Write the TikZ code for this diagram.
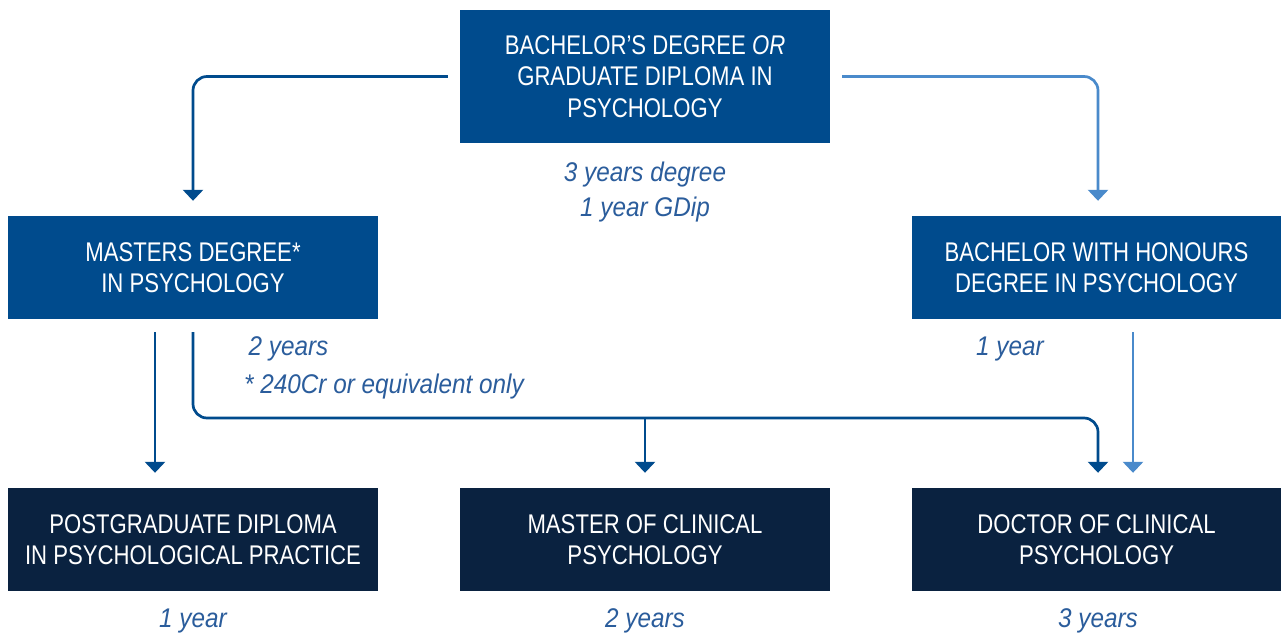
\documentclass[tikz,border=0pt]{standalone}
\usepackage{fontspec}
\setmainfont[FakeStretch=0.82]{Liberation Sans}
\newfontfamily\capsfont[FakeStretch=0.82]{Liberation Sans}
\newfontfamily\notefont[FakeStretch=0.9]{Liberation Sans}
\usetikzlibrary{arrows.meta,calc}
\definecolor{midblue}{HTML}{004B8D}
\definecolor{lightblue}{HTML}{4A8ACB}
\definecolor{navy}{HTML}{0A2240}
\definecolor{noteblue}{HTML}{2B5D9C}
\tikzset{
  boxbase/.style={rectangle, inner sep=0pt, text=white, align=center,
    font=\capsfont\fontsize{27}{31.5}\selectfont},
  upbox/.style={boxbase, fill=midblue, minimum width=370pt, minimum height=103pt},
  lowbox/.style={boxbase, fill=navy, minimum width=370pt, minimum height=103pt},
  note/.style={text=noteblue, inner sep=0pt, font=\notefont\itshape\fontsize{27}{35}\selectfont},
  darr/.style={draw=midblue, line width=2.7pt, rounded corners=14pt,
    -{Triangle[width=20pt,length=11pt]}, shorten >=15pt},
  larr/.style={draw=lightblue, line width=2.7pt, rounded corners=14pt,
    -{Triangle[width=20pt,length=11pt]}, shorten >=15pt},
}
\begin{document}
\begin{tikzpicture}[x=1pt,y=-1pt]
\useasboundingbox (0,0) rectangle (1281,634);
\fill[white] (0,0) rectangle (1281,634);

\node[upbox, minimum height=133pt] (top) at (645,76.5)
  {BACHELOR’S DEGREE \textit{OR}\\GRADUATE DIPLOMA IN\\PSYCHOLOGY};
\node[upbox] (mast) at (193,267.5) {MASTERS DEGREE*\\IN PSYCHOLOGY};
\node[upbox, minimum width=369pt] (hons) at (1096.5,267.5) {BACHELOR WITH HONOURS\\DEGREE IN PSYCHOLOGY};
\node[lowbox] (pgd) at (193,539.5) {POSTGRADUATE DIPLOMA\\IN PSYCHOLOGICAL PRACTICE};
\node[lowbox] (mcp) at (645,539.5) {MASTER OF CLINICAL\\PSYCHOLOGY};
\node[lowbox, minimum width=369pt] (doc) at (1096.5,539.5) {DOCTOR OF CLINICAL\\PSYCHOLOGY};

\node[note, align=center] (topnote) at (645,192) {3 years degree\\1 year GDip};
\node[note, align=left, anchor=north west, font=\notefont\itshape\fontsize{27}{38}\selectfont] (mastnote) at (244,336) {\,2 years\\* 240Cr or equivalent only};
\node[note, anchor=west] (honsnote) at (976,349) {1 year};
\node[note] (pgdnote) at (193,621) {1 year};
\node[note] (mcpnote) at (645,621) {2 years};
\node[note] (docnote) at (1098,621) {3 years};

\coordinate (bend) at (193,418);
\coordinate (docin) at ([xshift=1.5pt]doc.north);
\coordinate (honsin) at ([xshift=1.5pt]hons.north);

\draw[darr] ([xshift=-12pt]top.west) -| (mast.north);
\draw[larr] ([xshift=12pt]top.east) -| (honsin);
\draw[darr] ([xshift=-38pt,yshift=-13pt]mast.south) -- ([xshift=-38pt]pgd.north);
\draw[darr] ([yshift=-13pt]mast.south) |- (bend -| docin) -- (docin);
\draw[darr] (bend -| mcp.north) -- (mcp.north);
\draw[larr] ([xshift=36.5pt,yshift=-13pt]hons.south) -- ([xshift=36.5pt]doc.north);
\end{tikzpicture}
\end{document}
